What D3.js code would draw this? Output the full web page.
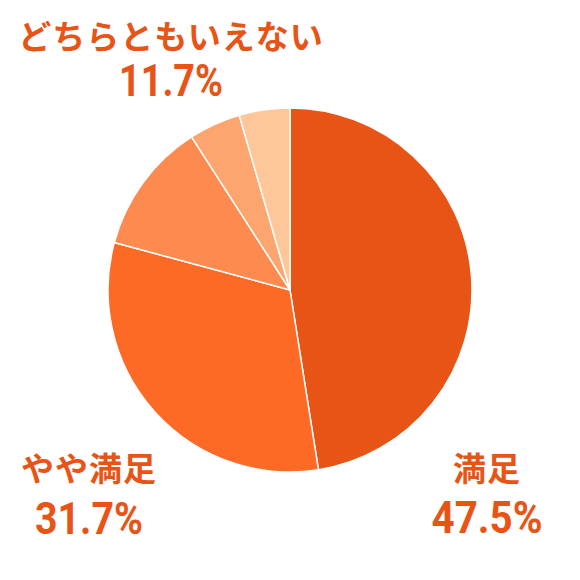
<!DOCTYPE html>
<html><head><meta charset="utf-8">
<script src="https://cdn.jsdelivr.net/npm/d3@7"></script>
<style>body{margin:0;background:#fff}svg{display:block}</style>
</head><body>
<script>
const categories = ["満足", "やや満足", "どちらともいえない", "やや不満", "不満"];
const values = [47.5, 31.7, 11.7, 4.6, 4.5];
const colors = ["#E85416", "#FC6A26", "#FD8A4E", "#FDA56F", "#FEC79A"];

const W = 580, H = 580, cx = 290, cy = 290, R = 182;
const svg = d3.select("body").append("svg").attr("width", W).attr("height", H);
const pie = d3.pie().sort(null).value(d => d)(values);
const arc = d3.arc().innerRadius(0).outerRadius(R);
const g = svg.append("g").attr("transform", `translate(${cx},${cy})`);
g.selectAll("path").data(pie).join("path")
  .attr("d", arc).attr("fill", (d, i) => colors[i])
  .attr("stroke", "#fff").attr("stroke-width", 1.5).attr("stroke-linejoin", "round");

// label layout
const labelPos = [
  {x: 487, y1: 481, y2: 533, w: 111},
  {x: 89, y1: 481, y2: 534, w: 108},
  {x: 171, y1: 49, y2: 96, w: 104}
];
const txt = "#E85416";
const jfont = "'Noto Sans CJK JP', 'Noto Sans', sans-serif";
const nfont = "Roboto, 'Noto Sans', sans-serif";
labelPos.forEach((p, i) => {
  svg.append("text").attr("x", p.x).attr("y", p.y1).attr("text-anchor", "middle")
    .attr("font-family", jfont).attr("font-weight", 700).attr("font-size", 33)
    .attr("letter-spacing", 1).attr("fill", txt).text(categories[i]);
  svg.append("text").attr("x", p.x - p.w / 2).attr("y", p.y2)
    .attr("font-family", nfont).attr("font-weight", 700).attr("font-size", 45)
    .attr("textLength", p.w).attr("lengthAdjust", "spacingAndGlyphs")
    .attr("fill", txt).text(d3.format(".1f")(values[i]) + "%");
});
</script>
</body></html>
